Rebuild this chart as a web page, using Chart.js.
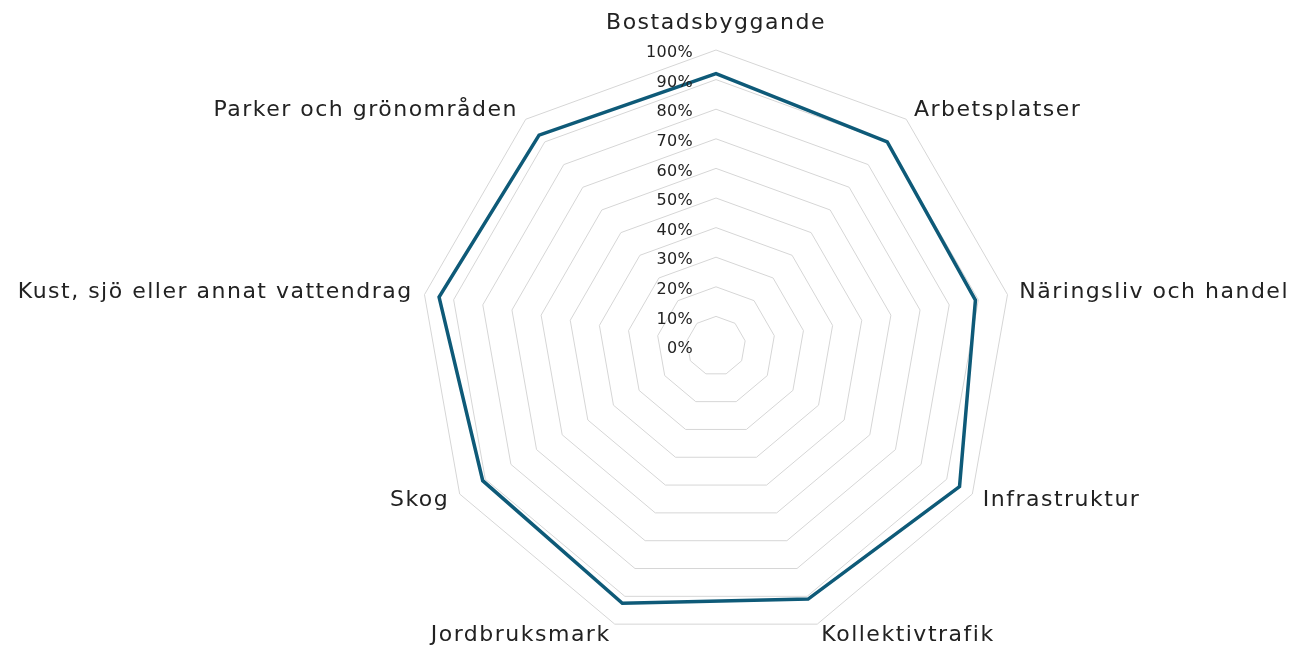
<!DOCTYPE html>
<html>
<head>
<meta charset="utf-8">
<script src="https://cdn.jsdelivr.net/npm/chart.js@4.4.0/dist/chart.umd.min.js"></script>
<style>
  html, body { margin: 0; padding: 0; background: #fff; }
  #wrap { width: 1301px; height: 647px; }
</style>
</head>
<body>
<div id="wrap"><canvas id="radar"></canvas></div>
<script>
// DATA
const categories = [
  'Bostadsbyggande',
  'Arbetsplatser',
  'Näringsliv och handel',
  'Infrastruktur',
  'Kollektivtrafik',
  'Jordbruksmark',
  'Skog',
  'Kust, sjö eller annat vattendrag',
  'Parker och grönområden'
];
const shares = [92, 90, 89, 95, 91, 92.5, 91, 95, 93];
const tickValues = [0, 10, 20, 30, 40, 50, 60, 70, 80, 90, 100];

const FONT = '"DejaVu Sans", sans-serif';
const TEXT_COLOR = '#222222';

// tick labels sit left of the vertical axis, right aligned
const leftTicks = {
  id: 'leftTicks',
  afterDraw(chart) {
    const scale = chart.scales.r;
    const ctx = chart.ctx;
    ctx.save();
    ctx.font = '16px ' + FONT;
    ctx.letterSpacing = '0.3px';
    ctx.fillStyle = TEXT_COLOR;
    ctx.textAlign = 'right';
    ctx.textBaseline = 'middle';
    scale.ticks.forEach(t => {
      const p = scale.getPointPositionForValue(0, t.value);
      ctx.fillText(t.value + '%', p.x - 23, p.y + 3);
    });
    ctx.restore();
  }
};

// category labels just outside the outer ring
const outerLabels = {
  id: 'outerLabels',
  afterDraw(chart) {
    const scale = chart.scales.r;
    const ctx = chart.ctx;
    const labels = chart.data.labels;
    ctx.save();
    ctx.font = '22px ' + FONT;
    ctx.letterSpacing = '1.5px';
    ctx.fillStyle = TEXT_COLOR;
    labels.forEach((lbl, i) => {
      const p = scale.getPointPosition(i, scale.drawingArea + 12);
      const dx = p.x - scale.xCenter;
      if (Math.abs(dx) < 2) {
        ctx.textAlign = 'center';
        ctx.textBaseline = 'alphabetic';
        ctx.fillText(lbl, p.x, p.y - 9);
      } else {
        ctx.textAlign = dx > 0 ? 'left' : 'right';
        ctx.textBaseline = 'middle';
        ctx.fillText(lbl, p.x, p.y);
      }
    });
    ctx.restore();
  }
};

new Chart(document.getElementById('radar'), {
  type: 'radar',
  data: {
    labels: categories,
    datasets: [{
      label: 'Andel',
      data: shares,
      borderColor: '#0e5a78',
      borderWidth: 3.5,
      backgroundColor: 'transparent',
      pointRadius: 0,
      tension: 0
    }]
  },
  options: {
    responsive: true,
    maintainAspectRatio: false,
    animation: false,
    layout: { padding: { top: 50, bottom: 5, left: 131, right: 0 } },
    plugins: {
      legend: { display: false },
      tooltip: { enabled: false }
    },
    scales: {
      r: {
        min: 0,
        max: 100,
        afterBuildTicks(scale) {
          scale.ticks = tickValues.map(v => ({ value: v }));
        },
        angleLines: { display: false },
        grid: { color: '#d6d6d6', lineWidth: 1 },
        ticks: { display: false },
        pointLabels: { display: false }
      }
    }
  },
  plugins: [leftTicks, outerLabels]
});
</script>
</body>
</html>
